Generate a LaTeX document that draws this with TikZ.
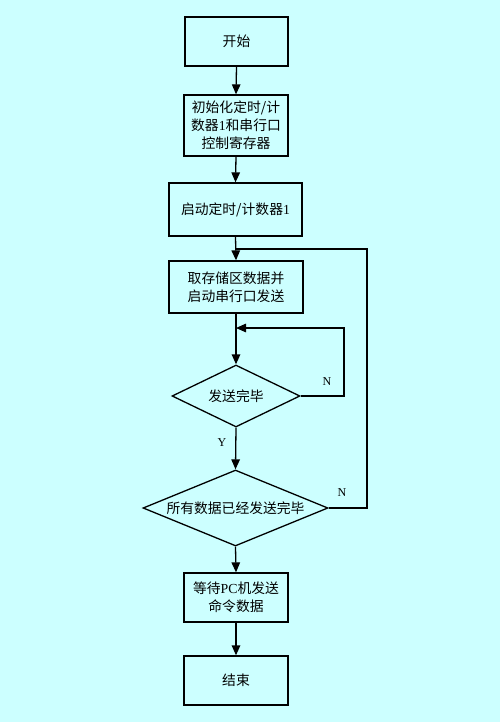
\documentclass[tikz,border=0pt]{standalone}
\usepackage{fontspec}
\setmainfont{Liberation Serif}
\newfontfamily\cjk{Noto Sans CJK SC}
\newcommand{\lat}[1]{{\rmfamily #1}}
\usetikzlibrary{shapes.geometric,arrows.meta}
\definecolor{bgc}{HTML}{CCFFFF}
\begin{document}
\begin{tikzpicture}[x=1pt,y=-1pt,
  box/.style={draw=black,line width=1.3pt,fill=bgc,rectangle,inner sep=0pt,align=center,font=\cjk\fontsize{13.8}{18}\selectfont},
  dia/.style={draw=black,line width=1.3pt,fill=bgc,diamond,inner sep=0pt},
  txt/.style={font=\cjk\fontsize{13.8}{18}\selectfont,inner sep=0pt},
  lbl/.style={font=\fontsize{12}{14}\selectfont,inner sep=0pt},
  conn/.style={line width=1.3pt,-{Triangle[length=10pt,width=8.5pt]}},
  line/.style={line width=1.3pt}]
\fill[bgc] (0,0) rectangle (500,722);
\useasboundingbox (0,0) rectangle (500,722);
\node[box,minimum width=103pt,minimum height=49pt] (b1) at (236.5,41.5) {开始};
\node[box,minimum width=104pt,minimum height=61pt] (b2) at (236,125.5) {初始化定时/计\\数器\lat{1}和串行口\\控制寄存器};
\node[box,minimum width=133pt,minimum height=53pt] (b3) at (235.5,209.5) {启动定时/计数器\lat{1}};
\node[box,minimum width=134pt,minimum height=52pt] (b4) at (236,287) {取存储区数据并\\启动串行口发送};
\node[dia,minimum width=128pt,minimum height=62pt] (d1) at (236,396) {};
\node[txt] (t1) at (d1.center) {发送完毕};
\node[dia,minimum width=185pt,minimum height=76pt] (d2) at (235.5,508) {};
\node[txt] (t2) at (d2.center) {所有数据已经发送完毕};
\node[box,minimum width=104pt,minimum height=49pt] (b5) at (236,597.5) {等待\lat{PC}机发送\\命令数据};
\node[box,minimum width=104pt,minimum height=49pt] (b6) at (236,680.5) {结束};
\coordinate (j1) at (236,249);
\coordinate (j2) at (236,328);
\coordinate (r1) at (367,508);
\coordinate (r2) at (344,396);
\draw[conn] (b1.south) -- (b2.north);
\draw[conn] (b2.south) -- (b3.north);
\draw[conn] (b3.south) -- (b4.north);
\draw[conn] (b4.south) -- (d1.north);
\draw[conn] (d1.south) -- node[lbl,left=9pt,pos=0.35] (ly) {Y} (d2.north);
\draw[conn] (d2.south) -- (b5.north);
\draw[conn] (b5.south) -- (b6.north);
\draw[conn] (d1.east) -- (r2) |- (j2);
\draw[line] (d2.east) -- (r1) |- (j1);
\node[lbl] (ln1) at (327,382) {N};
\node[lbl] (ln2) at (342,493) {N};
\end{tikzpicture}
\end{document}
